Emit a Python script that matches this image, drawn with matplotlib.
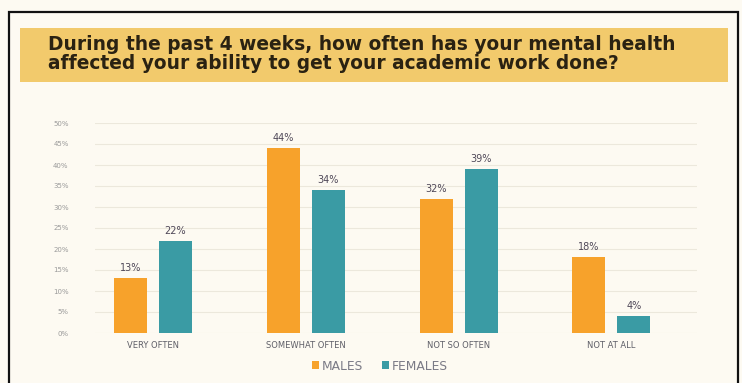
import matplotlib.pyplot as plt
import numpy as np
from matplotlib.patches import Rectangle

categories = ['VERY OFTEN', 'SOMEWHAT OFTEN', 'NOT SO OFTEN', 'NOT AT ALL']
males = [13, 44, 32, 18]
females = [22, 34, 39, 4]
yticks = [0, 5, 10, 15, 20, 25, 30, 35, 40, 45, 50]

orange = '#F7A22B'
teal = '#3A9BA4'
bg = '#FDFAF2'

fig = plt.figure(figsize=(7.42, 3.83), dpi=100)
fig.patch.set_facecolor(bg)

# outer frame
fig.patches.append(Rectangle((9 / 742, -0.05), 729 / 742, 1 - 12 / 383 + 0.05,
                             transform=fig.transFigure, fill=False,
                             edgecolor='#111111', linewidth=1.6))
# title banner
fig.patches.append(Rectangle((20 / 742, 1 - 82 / 383), 708 / 742, 54 / 383,
                             transform=fig.transFigure, facecolor='#F2CA6C',
                             edgecolor='none'))
fig.text(48 / 742, 1 - 54 / 383,
         'During the past 4 weeks, how often has your mental health\n'
         'affected your ability to get your academic work done?',
         fontsize=13.4, fontweight='bold', color='#2A2212',
         va='center', ha='left', linespacing=1.02)

ax = fig.add_axes([95 / 742, 1 - 333 / 383, 602 / 742, 210 / 383])
ax.set_facecolor(bg)
x = np.arange(len(categories))
w = 0.216
off = 0.147
b1 = ax.bar(x - off, males, w, color=orange, label='MALES', zorder=3)
b2 = ax.bar(x + off, females, w, color=teal, label='FEMALES', zorder=3)

for bars, vals in ((b1, males), (b2, females)):
    for b, v in zip(bars, vals):
        ax.text(b.get_x() + b.get_width() / 2, v + 1.2, f'{v}%',
                ha='center', va='bottom', fontsize=7, color='#4f4858')

ax.set_xlim(-0.38, 3.56)
ax.set_ylim(0, 50)
ax.set_yticks(yticks)
ax.set_yticklabels([f'{t}%' for t in yticks], fontsize=5, color='#9a9a9a')
ax.set_xticks(x)
ax.set_xticklabels(categories, fontsize=6, color='#5f5f68')
ax.tick_params(length=0, pad=6)
ax.tick_params(axis='y', pad=19)
ax.grid(axis='y', color='#ECE8DC', linewidth=0.8, zorder=0)
for s in ax.spines.values():
    s.set_visible(False)

leg = fig.legend(handles=[b1, b2], loc='center', bbox_to_anchor=(380 / 742, 1 - 366 / 383),
                 ncol=2, frameon=False, fontsize=8.8, handlelength=0.55, handleheight=0.55,
                 handletextpad=0.3, columnspacing=1.5)
for t in leg.get_texts():
    t.set_color('#7a7a85')

fig.savefig('out.png', dpi=100, facecolor=bg)
